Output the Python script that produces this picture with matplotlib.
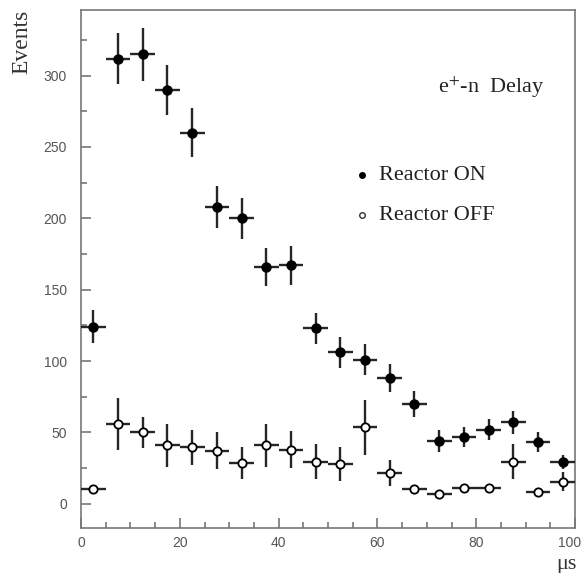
import matplotlib
matplotlib.use("Agg")
import matplotlib.pyplot as plt
from matplotlib.ticker import MultipleLocator
from matplotlib.transforms import ScaledTranslation

# Delay-time bins (microseconds), 5 us wide
bin_centers = [2.5, 7.5, 12.5, 17.5, 22.5, 27.5, 32.5, 37.5, 42.5, 47.5,
               52.5, 57.5, 62.5, 67.5, 72.5, 77.5, 82.5, 87.5, 92.5, 97.5]
bin_half_width = 2.5

# Reactor ON counts and errors
on_counts = [124, 312, 315, 290, 260, 208, 200, 166, 167, 123,
             106, 101, 88, 70, 44, 47, 52, 57, 43, 29]
on_errors = [11.5, 18, 18.5, 17.5, 17, 15, 14.5, 13.5, 13.5, 11,
             11, 11, 10, 9, 7.5, 7, 7.5, 8, 7, 5]

# Reactor OFF counts and errors
off_counts = [10, 56, 50, 41, 39.5, 37, 28.5, 41, 38, 29.5,
              28, 53.5, 21.5, 10, 6.5, 11, 11, 29.5, 8.5, 15.5]
off_errors = [2, 18, 11, 15, 12.5, 13, 11.5, 15, 13, 12.5,
              12, 19.5, 9, 2, 2, 2, 2, 12.5, 2, 6.5]

# Axis ticks
x_ticks = [0, 20, 40, 60, 80, 100]
y_ticks = [0, 50, 100, 150, 200, 250, 300]

serif = ["Liberation Serif", "DejaVu Serif"]
tick_font = ["Liberation Sans", "DejaVu Sans"]
plt.rcParams["mathtext.fontset"] = "stix"

fig = plt.figure(figsize=(5.86, 5.73), dpi=100)
ax = fig.add_axes([81 / 586, 45 / 573, 494 / 586, 518 / 573])

bar_color = "#262626"
ax.errorbar(bin_centers, on_counts, yerr=on_errors, xerr=bin_half_width,
            fmt="o", ms=6.5, mfc="black", mec="black", ecolor=bar_color,
            elinewidth=1.7, capsize=0, zorder=3)
ax.errorbar(bin_centers, off_counts, yerr=off_errors, xerr=bin_half_width,
            fmt="o", ms=6, mfc="white", mec="black", mew=1.3,
            ecolor=bar_color, elinewidth=1.7, capsize=0, zorder=3)

ax.set_xlim(0, 100)
ax.set_ylim(-17, 346)

ax.set_xticks(x_ticks)
ax.set_yticks(y_ticks)
ax.xaxis.set_minor_locator(MultipleLocator(5))
ax.yaxis.set_minor_locator(MultipleLocator(25))

spine_color = "#777777"
for s in ax.spines.values():
    s.set_color(spine_color)
    s.set_linewidth(1.2)

ax.tick_params(which="both", direction="in", top=False, right=False,
               color=spine_color, width=1.2, labelcolor="#555555")
ax.tick_params(which="major", length=7)
ax.tick_params(which="minor", length=4)
ax.tick_params(axis="y", which="major", pad=10)
ax.tick_params(axis="x", which="major", pad=6)
for lab in ax.get_xticklabels() + ax.get_yticklabels():
    lab.set_family(tick_font)
    lab.set_fontsize(10)

# keep the "100" label inside the canvas
last = ax.get_xticklabels()[-1]
last.set_transform(last.get_transform()
                   + ScaledTranslation(-4 / 72, 0, fig.dpi_scale_trans))

# Titles and labels
fig.text(22 / 586, 1 - 10 / 573, "Events", rotation=90, ha="center",
         va="top", family=serif, fontsize=17, color="#333333")
fig.text(566 / 586, 1 - 564 / 573, "μs", ha="center", va="center",
         family=serif, fontsize=16, color="#333333")
ax.text(0.722, 0.840, "e$^{+}$-n  Delay", transform=ax.transAxes,
        ha="left", va="baseline", family=serif, fontsize=16, color="#222222")

# Legend keys
ax.plot([0.569], [0.681], "o", ms=4, mfc="black", mec="black",
        transform=ax.transAxes)
ax.plot([0.569], [0.604], "o", ms=4, mfc="white", mec="#333333", mew=1,
        transform=ax.transAxes)
ax.text(0.603, 0.681, "Reactor ON", transform=ax.transAxes, ha="left",
        va="center", family=serif, fontsize=16, color="#222222")
ax.text(0.603, 0.604, "Reactor OFF", transform=ax.transAxes, ha="left",
        va="center", family=serif, fontsize=16, color="#222222")

fig.savefig("out.png", dpi=100)
